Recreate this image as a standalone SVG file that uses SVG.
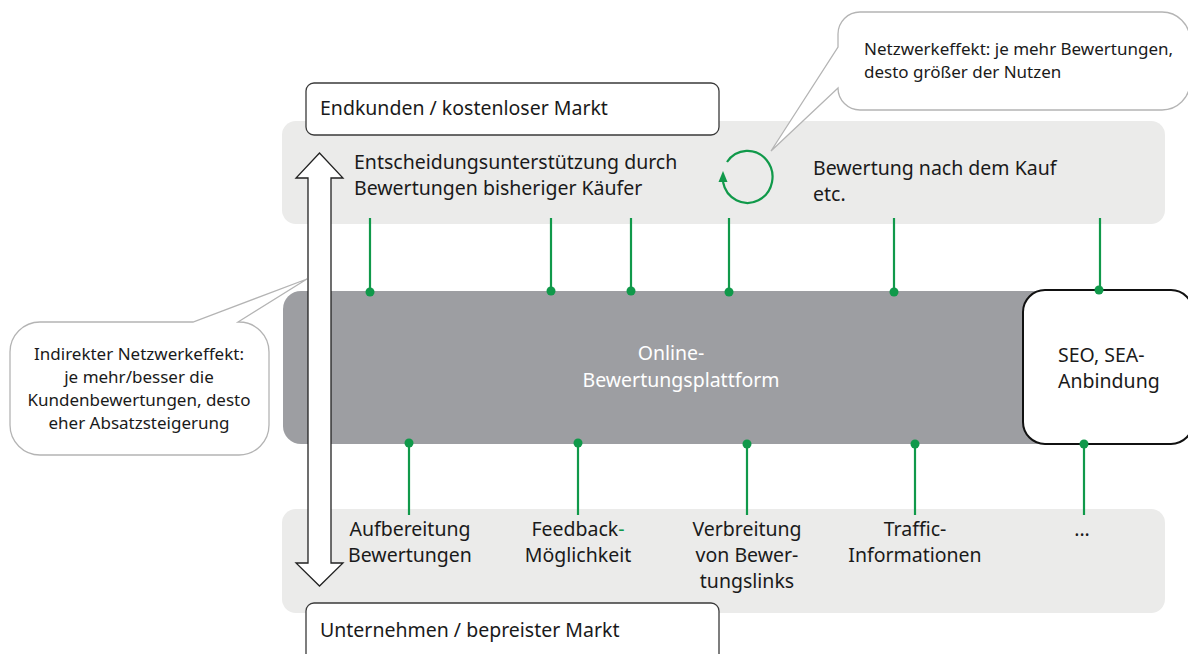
<svg xmlns="http://www.w3.org/2000/svg" width="1188" height="654" viewBox="0 0 1188 654">
<style>
.band{fill:#ebebea}
.t{font-family:"Noto Sans","Open Sans",sans-serif;font-size:19.5px;fill:#1a1a1a}
.s{font-family:"Noto Sans","Open Sans",sans-serif;font-size:17px;fill:#1a1a1a}
.c{text-anchor:middle}
.call{fill:#fff;stroke:#b4b4b4;stroke-width:1.3}
.g{stroke:#10994a;stroke-width:2.2;fill:none}
.dot{fill:#10994a}
</style>
<rect width="1188" height="654" fill="#fff"/>
<g id="band-top"><rect class="band" x="282" y="121" width="883" height="103" rx="14"/></g>
<g id="band-bottom"><rect class="band" x="282" y="509" width="883" height="104" rx="14"/></g>
<g id="endkunden"><rect x="306" y="83" width="413" height="52" rx="8" fill="#fff" stroke="#3a3a3a" stroke-width="1.3"/><text class="t" x="320" y="115">Endkunden / kostenloser Markt</text></g>
<g id="unternehmen"><rect x="306" y="603" width="413" height="60" rx="8" fill="#fff" stroke="#3a3a3a" stroke-width="1.3"/><text class="t" x="320" y="637">Unternehmen / bepreister Markt</text></g>
<g id="plattform"><rect x="283" y="291" width="780" height="153" rx="18" fill="#9d9ea2"/><text class="t c" x="671" y="360" style="fill:#fff">Online-</text><text class="t c" x="681" y="387" style="fill:#fff">Bewertungsplattform</text></g>
<g id="seo"><rect x="1023" y="290" width="170" height="154" rx="22" fill="#fff" stroke="#111" stroke-width="2"/><text class="t" x="1058" y="362">SEO, SEA-</text><text class="t" x="1058" y="388">Anbindung</text></g>
<g id="top-texts">
<text class="t" x="354" y="169">Entscheidungsunterstützung durch</text>
<text class="t" x="354" y="195">Bewertungen bisheriger Käufer</text>
<text class="t" x="813" y="175">Bewertung nach dem Kauf</text>
<text class="t" x="813" y="201">etc.</text>
</g>
<g id="bottom-texts">
<text class="t c" x="410" y="536">Aufbereitung</text>
<text class="t c" x="410" y="562">Bewertungen</text>
<text class="t c" x="578" y="536">Feedback<tspan style="fill:#10994a">-</tspan></text>
<text class="t c" x="578" y="562">Möglichkeit</text>
<text class="t c" x="747" y="536">Verbreitung</text>
<text class="t c" x="747" y="562">von Bewer-</text>
<text class="t c" x="747" y="588">tungslinks</text>
<text class="t c" x="915" y="536">Traffic-</text>
<text class="t c" x="915" y="562">Informationen</text>
<text class="t c" x="1082" y="536">...</text>
</g>
<g id="connectors">
<path class="g" d="M370 218V292M551 218V291M631 218V291M729 218V292M894 218V292M1100 218V290M409 443V515M578 443V515M747 443V515M915 443V515M1084 444V515"/>
<g class="dot"><circle cx="370" cy="292" r="4.5"/><circle cx="551" cy="291" r="4.5"/><circle cx="631" cy="291" r="4.5"/><circle cx="729" cy="292" r="4.5"/><circle cx="894" cy="292" r="4.5"/><circle cx="1099" cy="290" r="4.5"/><circle cx="409" cy="443" r="4.5"/><circle cx="578" cy="443" r="4.5"/><circle cx="747" cy="444" r="4.5"/><circle cx="915" cy="444" r="4.5"/><circle cx="1084" cy="444" r="4.5"/></g>
<path class="g" d="M727 162A25 26 0 1 1 723 182"/>
<polygon class="dot" points="723,171 718.5,182 727.5,182"/>
</g>
<g id="callout-top"><path class="call" d="M866 12H1162A28 28 0 0 1 1190 40V82A28 28 0 0 1 1162 110H860A22 22 0 0 1 838 88L771 151L838 47V34A22 22 0 0 1 860 12Z"/><text class="s" x="864" y="55">Netzwerkeffekt: je mehr Bewertungen,</text><text class="s" x="864" y="78">desto größer der Nutzen</text></g>
<g id="callout-left"><path class="call" d="M40 322H193L307 279L238 322H239A30 30 0 0 1 269 352V425A30 30 0 0 1 239 455H40A30 30 0 0 1 10 425V352A30 30 0 0 1 40 322Z"/>
<text class="s c" x="139" y="360">Indirekter Netzwerkeffekt:</text>
<text class="s c" x="139" y="383">je mehr/besser die</text>
<text class="s c" x="139" y="406">Kundenbewertungen, desto</text>
<text class="s c" x="139" y="429">eher Absatzsteigerung</text></g>
<g id="double-arrow"><polygon points="319.5,153 343,178 331,178 331,563 343,563 319.5,586 296,563 308,563 308,178 296,178" fill="#fff" stroke="#222" stroke-width="1.3"/></g>
</svg>
